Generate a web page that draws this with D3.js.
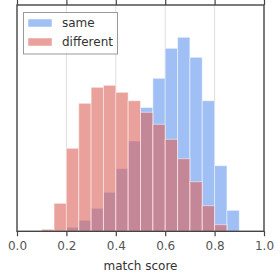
<!DOCTYPE html>
<html><head><meta charset="utf-8">
<script src="https://cdn.jsdelivr.net/npm/d3@7"></script>
<style>body{margin:0;background:#fff}svg{display:block}</style>
</head><body>
<script>
const binWidth = 0.05;
const sameBins = [0.20,0.25,0.30,0.35,0.40,0.45,0.50,0.55,0.60,0.65,0.70,0.75,0.80,0.85];
const sameValues = [4,11,23,39,62.6,90.3,123.8,153,183,194,174,130.6,65.6,21];
const diffBins = [0.10,0.15,0.20,0.25,0.30,0.35,0.40,0.45,0.50,0.55,0.60,0.65,0.70,0.75,0.80];
const diffValues = [2,28,83,128,144,146,139,130.6,119,107,92,72.6,49.6,25.6,6.6];
const xTicks = [0,0.2,0.4,0.6,0.8,1.0];
const yMax = 226.3;

const W=280,H=280, L=17, R=264, T=5, B=231.3;
const svg=d3.select("body").append("svg").attr("width",W).attr("height",H);
const x=d3.scaleLinear().domain([0,1]).range([L,R]);
const y=d3.scaleLinear().domain([0,yMax]).range([B,T]);

// grid
svg.append("g").selectAll("line").data(xTicks.slice(1,-1)).join("line")
  .attr("x1",d=>x(d)).attr("x2",d=>x(d)).attr("y1",T).attr("y2",B)
  .attr("stroke","#dedede").attr("stroke-width",1);

function bars(bins,vals,color){
  svg.append("g").selectAll("rect").data(bins.map((b,i)=>({b,v:vals[i]}))).join("rect")
    .attr("x",d=>x(d.b)).attr("width",d=>x(d.b+binWidth)-x(d.b))
    .attr("y",d=>y(d.v)).attr("height",d=>B-y(d.v))
    .attr("fill",color).attr("fill-opacity",0.6)
    .attr("stroke","#fff").attr("stroke-opacity",0.5).attr("stroke-width",1);
}
bars(sameBins,sameValues,"rgb(97,150,238)");
bars(diffBins,diffValues,"rgb(220,97,88)");

// spines
svg.append("rect").attr("x",L).attr("y",T).attr("width",R-L).attr("height",B-T)
  .attr("fill","none").attr("stroke","#444").attr("stroke-width",1.4);

// bottom axis
const xa=svg.append("g").attr("transform",`translate(0,${B})`)
  .call(d3.axisBottom(x).tickValues(xTicks).tickFormat(d3.format(".1f")).tickSize(5).tickPadding(5));
xa.select(".domain").remove();
xa.selectAll("line").attr("stroke","#444").attr("stroke-width",1.2);
xa.selectAll("text").attr("fill","#555").style("font-family","DejaVu Sans").style("font-size","12px");
// top ticks
const xt=svg.append("g").attr("transform",`translate(0,${T})`)
  .call(d3.axisTop(x).tickValues(xTicks).tickFormat("").tickSize(5));
xt.select(".domain").remove();
xt.selectAll("line").attr("stroke","#444").attr("stroke-width",1.2);

svg.append("text").attr("x",(L+R)/2).attr("y",270).attr("text-anchor","middle")
  .attr("fill","#333").style("font-family","DejaVu Sans").style("font-size","12px").text("match score");

// legend
const lg=svg.append("g");
lg.append("rect").attr("x",23.5).attr("y",12.5).attr("width",94).attr("height",41.5)
  .attr("fill","#fff").attr("fill-opacity",0.8).attr("stroke","#999").attr("stroke-width",1);
const items=[["same","rgb(97,150,238)"],["different","rgb(220,97,88)"]];
items.forEach((it,i)=>{
  lg.append("rect").attr("x",28).attr("y",19+i*19).attr("width",24).attr("height",8)
    .attr("fill",it[1]).attr("fill-opacity",0.6).attr("stroke","#fff").attr("stroke-opacity",0.5);
  lg.append("text").attr("x",62).attr("y",27+i*19).attr("fill","#333")
    .style("font-family","DejaVu Sans").style("font-size","12px").text(it[0]);
});
</script>
</body></html>
